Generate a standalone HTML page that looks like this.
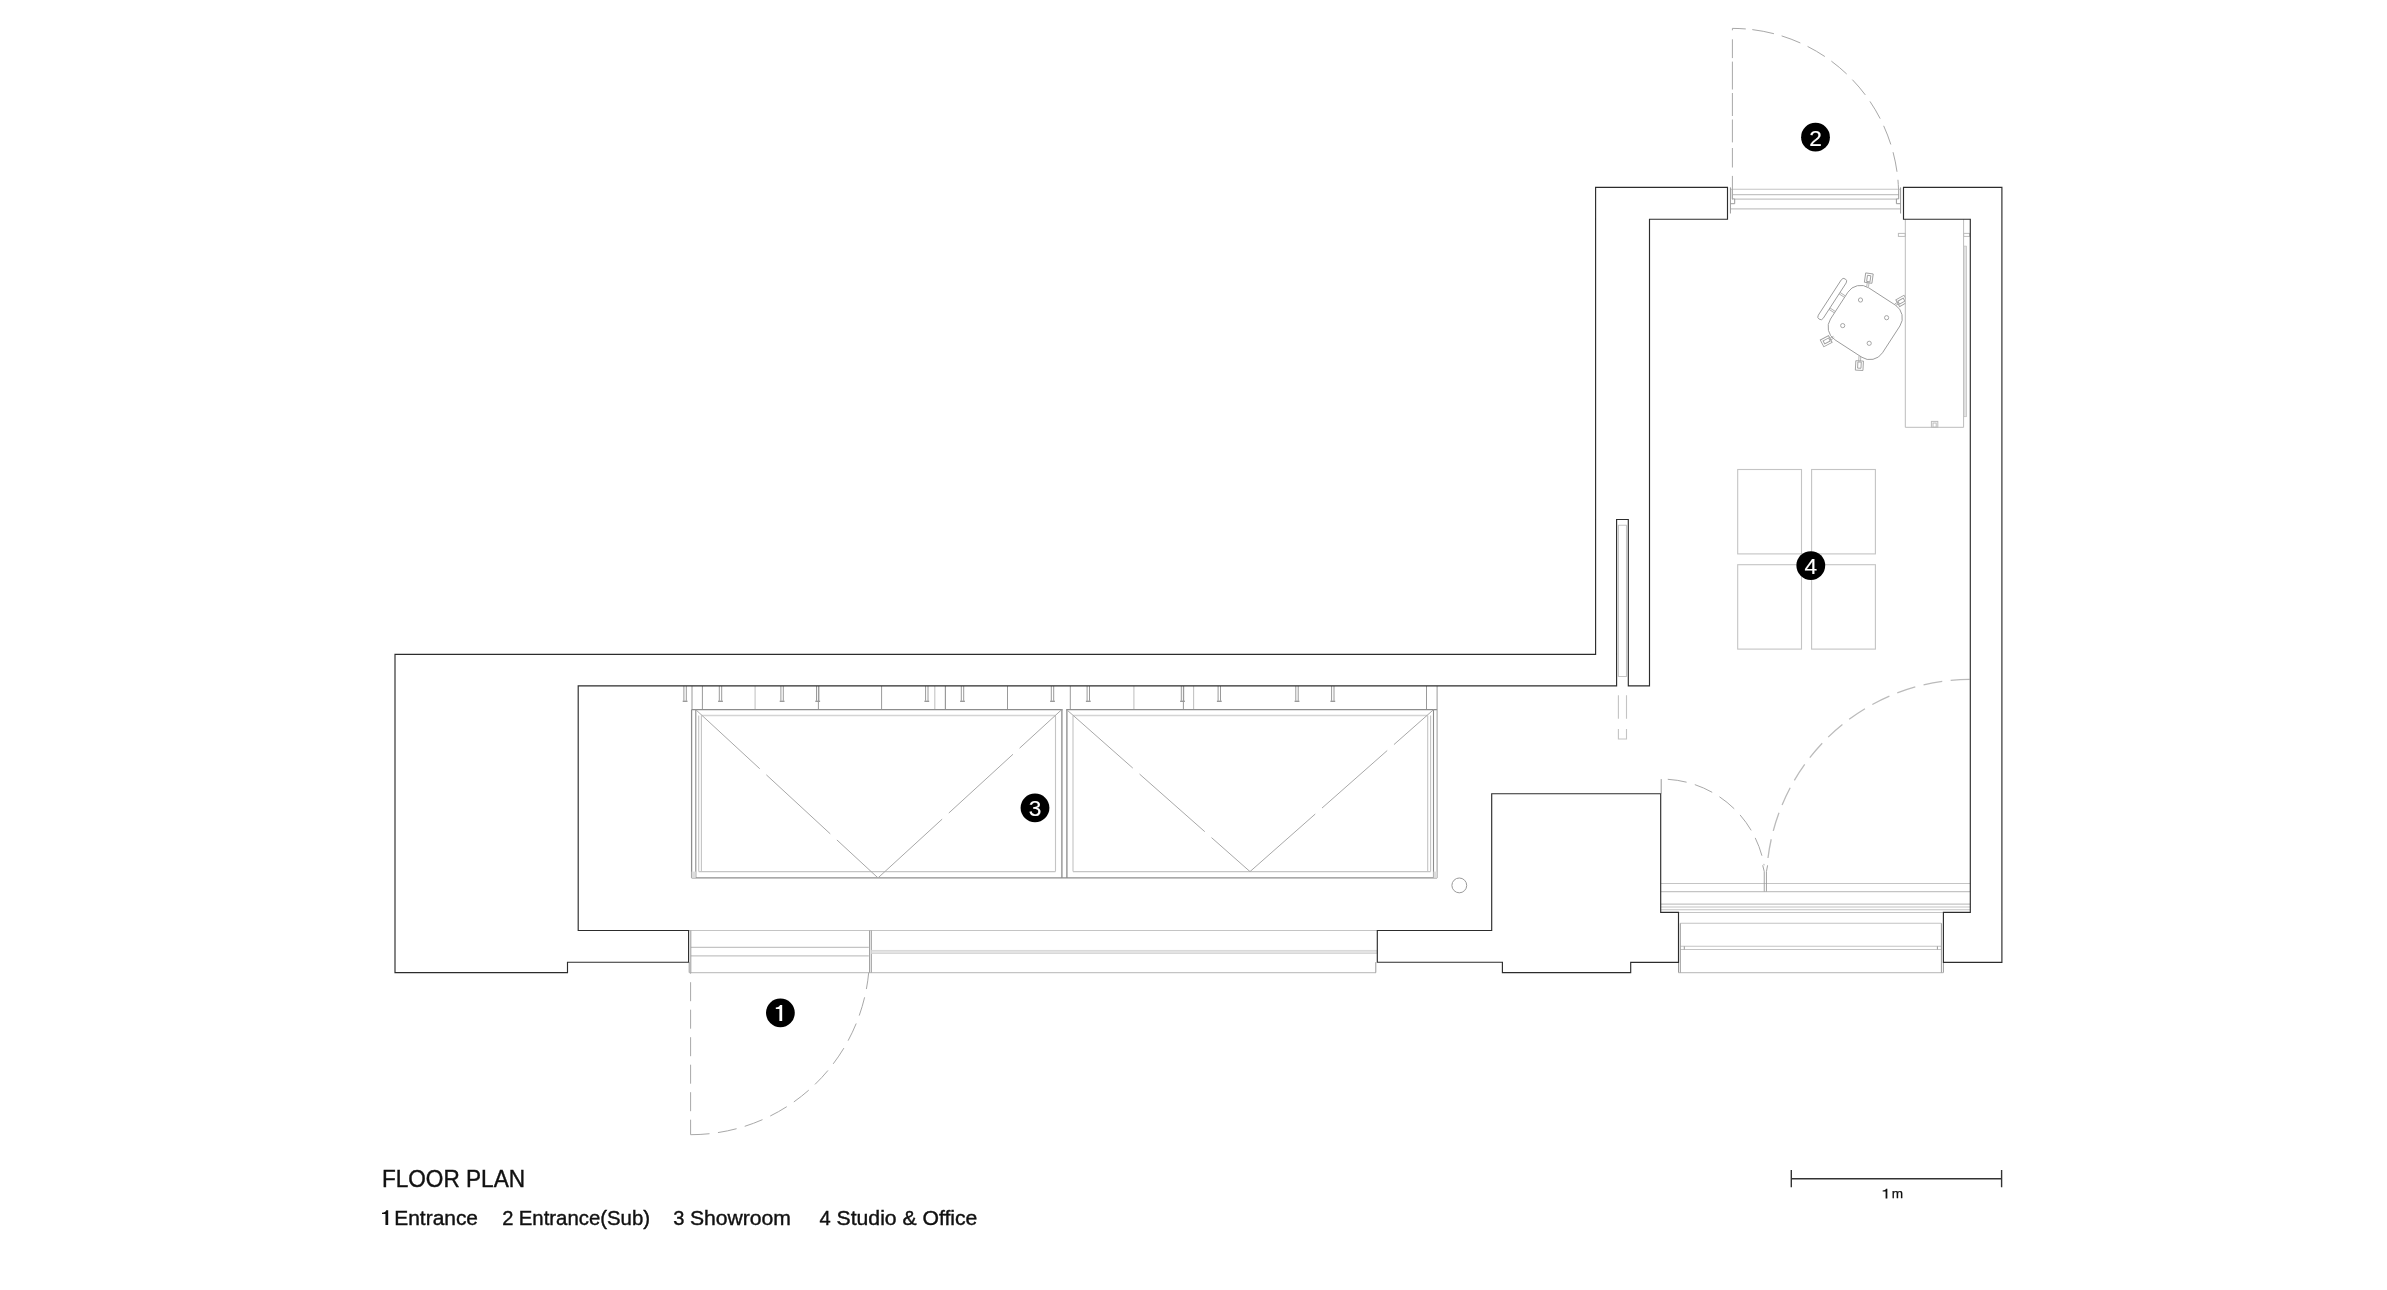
<!DOCTYPE html>
<html><head><meta charset="utf-8"><title>Floor Plan</title>
<style>html,body{margin:0;padding:0;background:#fff;}body{width:2387px;height:1290px;overflow:hidden;font-family:"Liberation Sans",sans-serif;}svg{display:block;filter:grayscale(1);}.w{fill:none;stroke:#2c2c2c;stroke-width:1.15;stroke-linejoin:miter;}.k{fill:none;stroke:#8c8c8c;stroke-width:1.3;}.m{fill:none;stroke:#9a9a9a;stroke-width:1;}.l{fill:none;stroke:#c4c4c4;stroke-width:1.1;}.ll{fill:none;stroke:#d4d4d4;stroke-width:1.2;}.d{fill:none;stroke:#a8a8a8;stroke-width:1;}.c{fill:none;stroke:#9c9c9c;stroke-width:0.9;}.dk{fill:none;stroke:#bcbcbc;stroke-width:1;}.t{font-family:"Liberation Sans",sans-serif;fill:#111;stroke:#111;stroke-width:0.4;}.n{font-family:"Liberation Sans",sans-serif;fill:#fff;stroke:#fff;stroke-width:0.15;font-size:22.7px;text-anchor:middle;}</style></head><body>
<svg width="2387" height="1290" viewBox="0 0 2387 1290">
<rect x="0" y="0" width="2387" height="1290" fill="#fff"/>
<g class="m">
<path d="M683.9 686V700.8M686.3 686V700.8"/>
<path d="M682.7 701.3H687.5" stroke-width="1.4"/>
<path d="M719.3 686V700.8M721.7 686V700.8"/>
<path d="M718.1 701.3H722.9" stroke-width="1.4"/>
<path d="M780.9 686V700.8M783.3 686V700.8"/>
<path d="M779.7 701.3H784.5" stroke-width="1.4"/>
<path d="M816.5 686V700.8M818.9 686V700.8"/>
<path d="M815.3 701.3H820.1" stroke-width="1.4"/>
<path d="M925.6 686V700.8M928.0 686V700.8"/>
<path d="M924.4 701.3H929.2" stroke-width="1.4"/>
<path d="M961.3 686V700.8M963.7 686V700.8"/>
<path d="M960.1 701.3H964.9" stroke-width="1.4"/>
<path d="M1051.3 686V700.8M1053.7 686V700.8"/>
<path d="M1050.1 701.3H1054.9" stroke-width="1.4"/>
<path d="M1087.1 686V700.8M1089.5 686V700.8"/>
<path d="M1085.9 701.3H1090.7" stroke-width="1.4"/>
<path d="M1181.3 686V700.8M1183.7 686V700.8"/>
<path d="M1180.1 701.3H1184.9" stroke-width="1.4"/>
<path d="M1218.1 686V700.8M1220.5 686V700.8"/>
<path d="M1216.9 701.3H1221.7" stroke-width="1.4"/>
<path d="M1295.8 686V700.8M1298.2 686V700.8"/>
<path d="M1294.6 701.3H1299.4" stroke-width="1.4"/>
<path d="M1331.6 686V700.8M1334.0 686V700.8"/>
<path d="M1330.4 701.3H1335.2" stroke-width="1.4"/>
</g>
<g class="m">
<path d="M692.0 686V709.7"/>
<path d="M702.4 686V709.7"/>
<path d="M818.4 686V709.7"/>
<path d="M881.6 686V709.7"/>
<path d="M945.3 686V709.7"/>
<path d="M945.5 686V709.7"/>
<path d="M1007.5 686V709.7"/>
<path d="M1070.3 686V709.7"/>
<path d="M1183.4 686V709.7"/>
<path d="M1426.5 686V709.7"/>
</g><g class="l">
<path d="M755.1 686V709.7"/>
<path d="M934.8 686V709.7"/>
<path d="M1133.9 686V709.7"/>
<path d="M1193.6 686V709.7"/>
</g>
<g class="k">
<path d="M691.6 709.7H1062.6M1066.2 709.7H1437.1"/>
<path d="M691.6 877.9H1437.1"/>
<path d="M691.6 709.7V877.9"/>
<path d="M1061.9 709.7V877.9M1066.9 709.7V877.9"/>
<path d="M695.8 709.7V877.9M1433.5 709.7V877.9" stroke-width="1.1"/>
</g>
<g class="m">
<path d="M1437.1 686V877.9"/>
</g>
<g class="l">
<path d="M698.7 715.5V871.6M701.4 715.5V871.6"/>
<path d="M1055.5 715.5V871.6M1073 715.5V871.6"/>
<path d="M1427.7 715.5V871.6M1430.6 715.5V871.6"/>
<path d="M698.7 871.6H1055.5M1073 871.6H1430.6"/>
</g>
<g class="ll">
<path d="M701.4 715.5H1055.5M1073 715.5H1427.7" stroke-width="1.6"/>
</g>
<rect x="691.6" y="871.6" width="4.2" height="6.3" fill="#ddd" stroke="none"/>
<rect x="1433.5" y="871.6" width="3.6" height="6.3" fill="#ddd" stroke="none"/>
<g class="d" stroke-dasharray="87 9">
<path d="M695.8 709.7L878 877.9"/>
<path d="M878 877.9L1061.5 709.8"/>
<path d="M1067.6 710.5L1250 871.6"/>
<path d="M1250 871.6L1433.5 709.7"/>
</g>
<circle cx="1459.3" cy="885.4" r="7.4" class="m"/>
<g class="l">
<path d="M688.6 930.5H1377.3"/>
<path d="M689.2 972.6H1376"/>
<path d="M690.8 947.4H868.8M690.8 955.9H868.8"/>
</g>
<g class="m">
<path d="M689.2 962.2V972.6M690.8 930.5V972.6"/>
<path d="M869.6 930.5V972.6M871.3 930.5V972.6"/>
<path d="M1375.8 962.2V972.6"/>
</g>
<rect x="871.3" y="950.3" width="505.8" height="3.3" fill="#e3e3e3" stroke="#cfcfcf" stroke-width="0.7"/>
<path class="d" d="M690.6 1134.7V972.6" stroke-dasharray="19 8.5" stroke-dashoffset="4"/>
<path class="d" d="M690.6 1134.7A178.8 178.8 0 0 0 868.7 972.6" stroke-dasharray="19 8.5 19 8.5 19 8.5 19 8.5 19 8.5 19 8.5 19 8.5 19 8.5 19 8.5 40"/>
<g class="l">
<path d="M1730.4 189.2H1900.6"/>
<path d="M1732.3 194.6H1898.7"/>
<path d="M1734.6 199.1H1896.5"/>
<path d="M1730.4 208.9H1900.6"/>
</g>
<g class="m">
<path d="M1730.4 187.4V213.5M1900.6 187.4V213.5"/>
<path d="M1732.3 189.2V198.9H1734.7V203.7H1730.4"/>
<path d="M1898.7 189.2V198.9H1896.4V203.7H1900.6"/>
</g>
<path class="d" d="M1732.4 199.6V28.4" stroke-dasharray="23.7 8.4 19.5 5.6 22.9 3.5 23 3.5 27.9 3.5 18.8 9 3"/>
<path class="d" d="M1732.3 28.4A166.3 166.3 0 0 1 1898.5 189" stroke-dasharray="13.5 6.6 22 8 20 8 20 8 20 8 20 8 20 8 20 8 20 8 13 8"/>
<g class="c" transform="translate(1865.2 322.5) rotate(33)">
<rect x="-31" y="-31" width="62" height="62" rx="15" ry="15" fill="#fff"/>
<rect x="-43.3" y="-25.7" width="5.8" height="48" rx="2.9" ry="2.9"/>
<path d="M-37.5 -11.5H-31.3M-37.5 -9.8H-31.3M-37.5 7H-31.3M-37.5 8.7H-31.3" stroke-width="0.7"/>
</g>
<g class="c">
<circle cx="1860.5" cy="300" r="2.1"/>
<circle cx="1886.6" cy="317.7" r="2.1"/>
<circle cx="1842.7" cy="325.6" r="2.1"/>
<circle cx="1869.2" cy="343.3" r="2.1"/>
</g>
<g class="c" transform="translate(1868.8 278.1) rotate(8)"><rect x="-3.8" y="-4.7" width="7.6" height="9.4"/><rect x="-1.6999999999999997" y="-2.6" width="3.3999999999999995" height="6.2"/><path d="M-0.9 4.7V8.7M0.9 4.7V8.7" stroke-width="0.7"/></g>
<g class="c" transform="translate(1859.4 365.6) rotate(183)"><rect x="-3.8" y="-4.7" width="7.6" height="9.4"/><rect x="-1.6999999999999997" y="-2.6" width="3.3999999999999995" height="6.2"/><path d="M-0.9 4.7V9.7M0.9 4.7V9.7" stroke-width="0.7"/></g>
<g class="c" transform="translate(1826.2 341.2) rotate(-118)"><rect x="-3.8" y="-4.7" width="7.6" height="9.4"/><rect x="-1.6999999999999997" y="-2.6" width="3.3999999999999995" height="6.2"/><path d="M-0.9 4.7V8.7M0.9 4.7V8.7" stroke-width="0.7"/></g>
<g class="c" transform="translate(1901.8 300.9) rotate(60)"><rect x="-3.8" y="-4.7" width="7.6" height="9.4"/><rect x="-1.6999999999999997" y="-2.6" width="3.3999999999999995" height="6.2"/><path d="M-0.9 4.7V7.7M0.9 4.7V7.7" stroke-width="0.7"/></g>
<rect x="1905.8" y="290" width="8" height="22" fill="#fff" stroke="none"/>
<g class="dk">
<path d="M1905.3 219.2V427.3H1963.6V219.2"/>
<rect x="1898.4" y="233.4" width="6.9" height="3"/>
<rect x="1963.6" y="233.4" width="6" height="3"/>
<rect x="1931.4" y="421.4" width="6.4" height="5.9"/>
<rect x="1933" y="423" width="3.2" height="4.3"/>
</g>
<rect x="1963.8" y="246.1" width="2.8" height="170.6" fill="#e2e2e2" stroke="#bdbdbd" stroke-width="0.7"/>
<g class="l">
<rect x="1737.7" y="469.5" width="63.8" height="84.4"/>
<rect x="1811.6" y="469.5" width="63.8" height="84.4"/>
<rect x="1737.7" y="564.7" width="63.8" height="84.4"/>
<rect x="1811.6" y="564.7" width="63.8" height="84.4"/>
</g>
<g class="l">
<path d="M1618.4 676.5V525.2H1626.5V676.5Z"/>
<path d="M1618.4 695.2V718.8M1626.5 695.2V718.8M1618.4 728.9V739H1626.5V728.9"/>
</g>
<g class="l">
<path d="M1660.7 883.5H1970.3M1660.7 891.6H1970.3"/>
<path d="M1660.7 904.1H1970.3M1660.7 907H1970.3M1660.7 909.8H1970.3"/>
<path d="M1678.5 912.5H1943.4"/>
<path d="M1680.3 923.3H1941.4M1680.3 946.3H1941.4M1680.3 949.5H1941.4M1678.5 972.6H1943.4"/>
</g>
<g class="m">
<path d="M1680.3 923.3V972.6M1941.4 923.3V972.6M1678.5 962.3V972.6M1943.4 962.3V972.6"/>
<path d="M1684.3 946.3V949.5M1937.4 946.3V949.5"/>
<path d="M1762.7 865.3L1764.25 871.5V891.6M1767.6 865.3L1766.45 871.5V891.6" stroke-width="0.9"/>
<path d="M1661.2 779.1V793.6"/>
</g>
<path class="d" d="M1661.4 779.1A104.3 104.3 0 0 1 1764.1 865.3" stroke-dasharray="19 8.5" stroke-dashoffset="21"/>
<path class="d" d="M1969.6 679.4A204 204 0 0 0 1767.2 865.3" stroke-dasharray="19 8.5" stroke-dashoffset="0" style="stroke:#bbb;stroke-width:1.3"/>
<path class="w" d="M395 654.3H1595.6V187.4H1727.5V219.2H1649.5V685.8H1628.3V519.5H1616.6V685.8H578.2V930.5H688.6V962.2H567.5V972.6H395Z"/>
<path class="w" d="M1903.5 187.4H2001.9V962.3H1943.4V912.4H1970.3V219.2H1903.5Z"/>
<path class="w" d="M1491.7 793.7H1660.7V912.4H1678.5V962.3H1630.7V972.6H1502.4V962.2H1377.3V930.5H1491.7Z"/>
<circle cx="780.4" cy="1012.85" r="14.4" fill="#000"/>
<path transform="translate(780.4 1012.85)" fill="#fff" d="M1.8 8.2V-7.95H-0.4C-0.8 -6.3 -2.3 -5.5 -4.6 -5.45V-3.9H-1V8.2Z"/>
<circle cx="1815.5" cy="137.15" r="14.4" fill="#000"/>
<text class="n" x="1815.5" y="145.70">2</text>
<circle cx="1035.0" cy="807.85" r="14.4" fill="#000"/>
<text class="n" x="1035.0" y="816.40">3</text>
<circle cx="1810.8" cy="565.55" r="14.4" fill="#000"/>
<text class="n" x="1810.8" y="574.10">4</text>
<path d="M1791.3 1178.7H2001.6M1791.3 1170V1187.2M2001.6 1170V1187.2" fill="none" stroke="#333" stroke-width="1.4"/>
<path fill="#111" d="M1887.35 1198.4V1188.7H1886C1885.7 1189.8 1884.7 1190.4 1882.65 1190.45V1191.6H1885.6V1198.4Z"/>
<text class="t" x="1891.7" y="1198.4" font-size="13.6" style="stroke-width:0.25">m</text>
<text class="t" x="381.9" y="1187" font-size="23.2" textLength="143.2" lengthAdjust="spacingAndGlyphs">FLOOR PLAN</text>
<path fill="#111" d="M388.2 1225.1V1210.2H386.2C385.8 1211.8 384.4 1212.6 382 1212.7V1214.1H385.45V1225.1Z"/>
<text class="t" x="394.3" y="1225.1" font-size="20.1" textLength="83.7" lengthAdjust="spacingAndGlyphs">Entrance</text>
<text class="t" x="502.2" y="1225.1" font-size="20.1">2</text>
<text class="t" x="518.8" y="1225.1" font-size="20.1" textLength="131.2" lengthAdjust="spacingAndGlyphs">Entrance(Sub)</text>
<text class="t" x="673.2" y="1225.1" font-size="20.1">3</text>
<text class="t" x="689.9" y="1225.1" font-size="20.1" textLength="101.1" lengthAdjust="spacingAndGlyphs">Showroom</text>
<text class="t" x="819.6" y="1225.1" font-size="20.1">4</text>
<text class="t" x="836.6" y="1225.1" font-size="20.1" textLength="140.8" lengthAdjust="spacingAndGlyphs">Studio &amp; Office</text>
</svg></body></html>
